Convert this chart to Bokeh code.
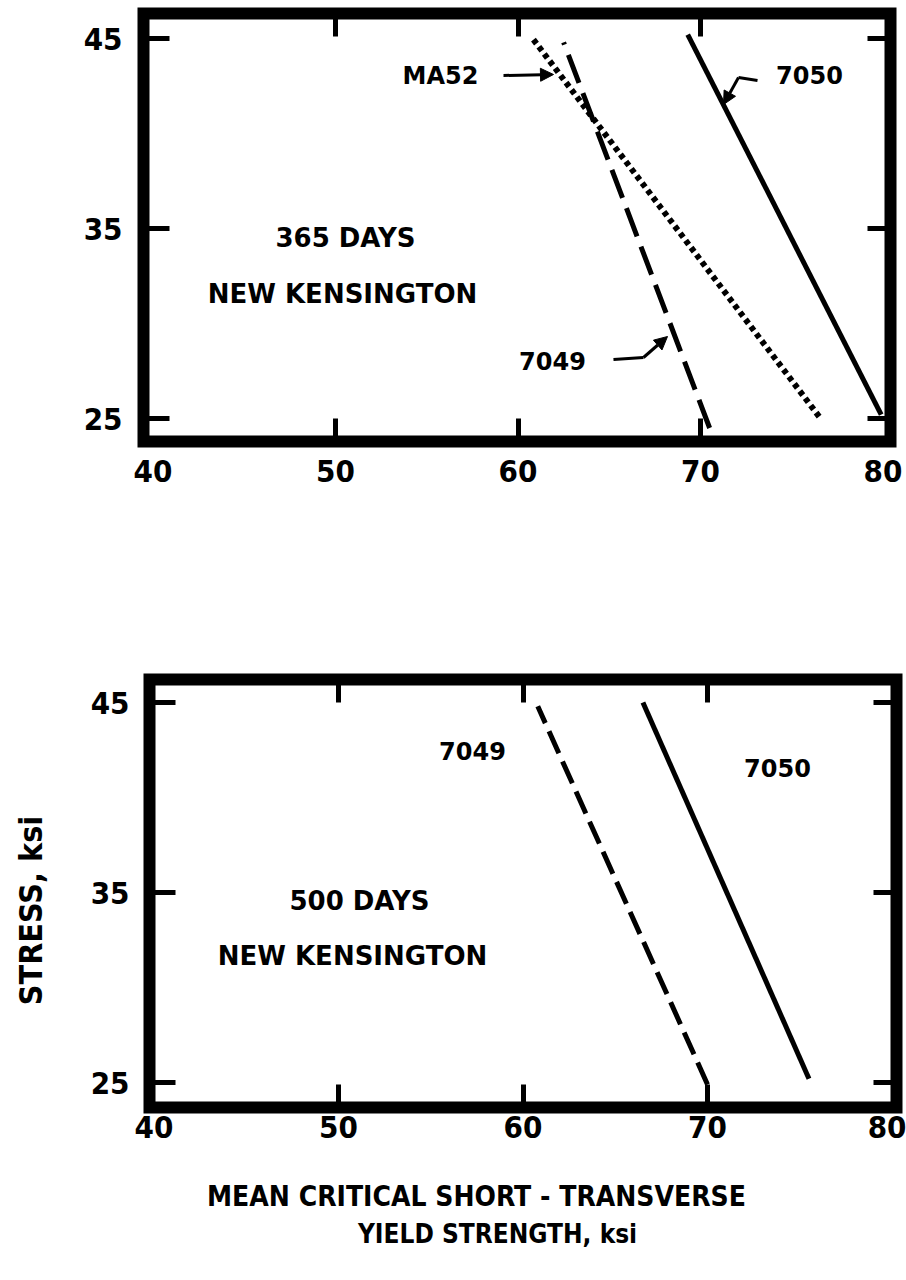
from math import pi

from bokeh.core.properties import value
from bokeh.embed import file_html
from bokeh.layouts import column, row
from bokeh.models import Arrow, FixedTicker, Label, LinearAxis, NormalHead, Range1d
from bokeh.plotting import figure
from bokeh.resources import INLINE

# ---------------------------------------------------------------- data
x_tick_values = [40, 50, 60, 70, 80]
x_inner_ticks = [50, 60, 70]
y_tick_values = [25, 35, 45]

# 365 days exposure
top_7050_ys = [79.9, 69.3]
top_7050_stress = [25.2, 45.2]
top_7049_ys = [70.5, 62.5]
top_7049_stress = [24.5, 44.8]
top_ma52_ys = [76.5, 60.8]
top_ma52_stress = [25.1, 45.0]

# 500 days exposure
bot_7050_ys = [75.5, 66.5]
bot_7050_stress = [25.2, 45.0]
bot_7049_ys = [70.0, 60.8]
bot_7049_stress = [24.9, 44.8]

y_title = "STRESS, ksi"
x_title = ["MEAN CRITICAL SHORT - TRANSVERSE", "YIELD STRENGTH, ksi"]

# ---------------------------------------------------------------- layout
W, H = 906, 1280
TOP_H = 560            # first panel: page rows 0..560
BOT_TOP, BOT_H = 560, 600
TITLE_TOP = BOT_TOP + BOT_H
SIDE_W = 70            # strip left of the second panel for the stress title

# (frame left, right, top, bottom) in page pixels, and pixel positions
# of the 40/80 and 45/25 grid values
TOP_FRAME = (143, 890, 13, 441)
TOP_XCAL = (152.5, 882.5)
TOP_YCAL = (38.0, 418.0)
BOT_FRAME = (149, 896, 679, 1107)
BOT_XCAL = (153.5, 891.5)
BOT_YCAL = (702.0, 1082.0)

TICK_FONT = "DejaVu Sans Condensed"
NOTE_FONT = "DejaVu Sans"


class Panel:
    def __init__(self, frame, xcal, ycal, page_left, page_top):
        self.frame, self.xcal, self.ycal = frame, xcal, ycal
        self.page_left, self.page_top = page_left, page_top

    def x(self, px):
        a, b = self.xcal
        return 40 + (px - a) * 40.0 / (b - a)

    def y(self, py):
        a, b = self.ycal
        return 45 - (py - a) * 20.0 / (b - a)


def build(panel, width, height, label_standoff, y_standoff):
    left, right, top, bottom = panel.frame
    p = figure(
        width=width, height=height,
        x_range=Range1d(panel.x(left), panel.x(right)),
        y_range=Range1d(panel.y(bottom), panel.y(top)),
        output_backend="svg", toolbar_location=None,
        min_border_left=left - panel.page_left,
        min_border_right=panel.page_left + width - right,
        min_border_top=top - panel.page_top,
        min_border_bottom=panel.page_top + height - bottom,
        x_axis_location=None, y_axis_location=None,
    )
    p.grid.visible = False
    p.background_fill_color = "white"
    p.border_fill_color = "white"
    p.outline_line_color = "black"
    p.outline_line_width = 12
    p.outline_line_alpha = 1.0
    p.outline_line_join = "miter"

    def style(ax):
        ax.axis_line_color = None
        ax.major_tick_out = 0
        ax.minor_tick_out = 0
        ax.major_tick_line_width = 5
        ax.minor_tick_line_width = 5
        ax.major_tick_line_color = "black"
        ax.minor_tick_line_color = "black"
        ax.major_label_text_font = TICK_FONT
        ax.major_label_text_font_style = "bold"
        ax.major_label_text_font_size = "31px"
        ax.major_label_text_color = "black"
        return ax

    below = style(LinearAxis(ticker=FixedTicker(ticks=x_tick_values,
                                                minor_ticks=x_inner_ticks)))
    below.major_tick_line_color = None
    below.major_tick_in = 0
    below.minor_tick_in = 23
    below.major_label_standoff = label_standoff
    p.add_layout(below, "below")

    above = style(LinearAxis(ticker=FixedTicker(ticks=[], minor_ticks=x_inner_ticks)))
    above.minor_tick_in = 23
    p.add_layout(above, "above")

    left_ax = style(LinearAxis(ticker=FixedTicker(ticks=y_tick_values)))
    left_ax.major_tick_in = 26
    left_ax.major_label_standoff = y_standoff
    p.add_layout(left_ax, "left")

    right_ax = style(LinearAxis(ticker=FixedTicker(ticks=[], minor_ticks=y_tick_values)))
    right_ax.minor_tick_in = 23
    p.add_layout(right_ax, "right")
    return p


def note(p, panel, text, px, py, size):
    p.add_layout(Label(
        x=panel.x(px), y=panel.y(py), text=text,
        text_font=NOTE_FONT, text_font_style="bold",
        text_font_size=f"{size}px", text_color="black",
        text_align="center", text_baseline="middle",
    ))


def pointer(p, panel, path):
    xs = [panel.x(a) for a, _ in path]
    ys = [panel.y(b) for _, b in path]
    if len(path) > 2:
        p.line(xs[:-1], ys[:-1], line_color="black", line_width=3)
    p.add_layout(Arrow(
        end=NormalHead(size=13, fill_color="black", line_color="black", line_width=1),
        x_start=xs[-2], y_start=ys[-2], x_end=xs[-1], y_end=ys[-1],
        line_color="black", line_width=3,
    ))


def text_strip(width, height, page_left, page_top, frame):
    """Blank figure whose data units are page pixels (y downwards).

    Its borders repeat those of the neighbouring panel, so that the
    layout's frame alignment leaves the pixel mapping unchanged."""
    fl, fr, ft, fb = frame
    p = figure(
        width=width, height=height,
        x_range=Range1d(fl, fr), y_range=Range1d(fb, ft),
        output_backend="svg", toolbar_location=None,
        min_border_left=fl - page_left, min_border_right=page_left + width - fr,
        min_border_top=ft - page_top, min_border_bottom=page_top + height - fb,
        x_axis_location=None, y_axis_location=None,
    )
    p.grid.visible = False
    p.outline_line_color = None
    p.background_fill_color = "white"
    p.border_fill_color = "white"
    return p


# ---------------------------------------------------------------- 365 days
tp = Panel(TOP_FRAME, TOP_XCAL, TOP_YCAL, 0, 0)
p1 = build(tp, W, TOP_H, 18, 21)
p1.line(top_7050_ys, top_7050_stress, line_color="black", line_width=5)
p1.line(top_7049_ys, top_7049_stress, line_color="black", line_width=5,
        line_dash="30 11")
p1.line(top_ma52_ys, top_ma52_stress, line_color="black", line_width=6,
        line_dash="5 4")

note(p1, tp, "365 DAYS", 345, 237, 26)
note(p1, tp, "NEW KENSINGTON", 342, 293, 26)
note(p1, tp, "MA52", 440, 75, 24)
note(p1, tp, "7050", 809, 74, 24)
note(p1, tp, "7049", 552, 360, 24)
pointer(p1, tp, [(503, 75), (553, 74)])
pointer(p1, tp, [(757, 80), (738, 77), (723, 104)])
pointer(p1, tp, [(613, 359), (643, 357), (667, 336)])

# ---------------------------------------------------------------- 500 days
bp = Panel(BOT_FRAME, BOT_XCAL, BOT_YCAL, SIDE_W, BOT_TOP)
p2 = build(bp, W - SIDE_W, BOT_H, 8, 20)
p2.line(bot_7050_ys, bot_7050_stress, line_color="black", line_width=5)
p2.line(bot_7049_ys, bot_7049_stress, line_color="black", line_width=5,
        line_dash="24 9")

note(p2, bp, "500 DAYS", 359, 900, 26)
note(p2, bp, "NEW KENSINGTON", 352, 955, 26)
note(p2, bp, "7049", 472, 750, 24)
note(p2, bp, "7050", 777, 767, 24)

# stress title, rotated, in a strip left of the second panel
side = text_strip(SIDE_W, BOT_H, 0, BOT_TOP,
                  (0, SIDE_W, BOT_FRAME[2], BOT_FRAME[3]))
side.text(x=[30], y=[910], text=[y_title], angle=pi / 2,
          text_font=value(TICK_FONT), text_font_style="bold",
          text_font_size="32px", text_color="black",
          text_align="center", text_baseline="middle")

# two-line yield strength title under the second panel
foot = text_strip(W, H - TITLE_TOP, 0, TITLE_TOP,
                  (TOP_FRAME[0], TOP_FRAME[1], TITLE_TOP, H))
foot.text(x=[476], y=[1196], text=[x_title[0]],
          text_font=value(TICK_FONT), text_font_style="bold",
          text_font_size="28px", text_color="black",
          text_align="center", text_baseline="middle")
foot.text(x=[497], y=[1233], text=[x_title[1]],
          text_font=value(TICK_FONT), text_font_style="bold",
          text_font_size="26px", text_color="black",
          text_align="center", text_baseline="middle")

page = column(p1, row(side, p2, spacing=0), foot, spacing=0)
open("out.html", "w").write(file_html(page, INLINE))
